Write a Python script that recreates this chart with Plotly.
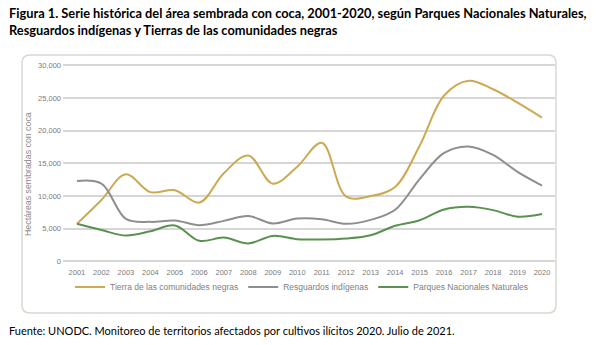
import plotly.graph_objects as go

years = list(range(2001, 2021))
tierras = [5750, 9400, 13350, 10600, 10900, 9000, 13500, 16200, 11900, 14500,
           18150, 9900, 10000, 11400, 17700, 25400, 27650, 26350, 24300, 22000]
resguardos = [12300, 11900, 6500, 6050, 6250, 5550, 6200, 6950, 5800, 6550,
              6450, 5750, 6350, 7900, 12600, 16600, 17600, 16300, 13700, 11600]
parques = [5750, 4800, 3950, 4600, 5500, 3150, 3650, 2750, 3900, 3400,
           3350, 3500, 4000, 5450, 6300, 7950, 8350, 7850, 6850, 7250]
names = ["Tierra de las comunidades negras", "Resguardos indígenas", "Parques Nacionales Naturales"]
colors = ["#CDAA52", "#8E8E8E", "#5B9150"]
y_ticks = [0, 5000, 10000, 15000, 20000, 25000, 30000]

title_l1 = "Figura 1. Serie histórica del área sembrada con coca, 2001-2020, según Parques Nacionales Naturales,"
title_l2 = "Resguardos indígenas y Tierras de las comunidades negras"
source = "Fuente: UNODC. Monitoreo de territorios afectados por cultivos ilícitos 2020. Julio de 2021."
y_title = "Hectáreas sembradas con coca"

W, H = 616, 345
L, R, T, B = 63, 61, 60, 79
pw, ph = W - L - R, H - T - B

def px(x):
    return (x - L) / pw

def py(y):
    return (H - B - y) / ph

fig = go.Figure()
for vals, nm, c in zip([tierras, resguardos, parques], names, colors):
    fig.add_trace(go.Scatter(x=years, y=vals, name=nm, mode="lines",
                             line=dict(color=c, width=2, shape="spline", smoothing=1.0)))

fig.update_layout(
    width=W, height=H,
    margin=dict(l=L, r=R, t=T, b=B),
    paper_bgcolor="white", plot_bgcolor="white",
    font=dict(family="Liberation Sans", size=8, color="#8A8A8A"),
    xaxis=dict(range=[2000.43, 2020.53], tickmode="array", tickvals=years,
               ticktext=[str(y) for y in years], showgrid=False, zeroline=False,
               showline=False, ticks="", tickfont=dict(size=7.5, color="#7A7A7A")),
    yaxis=dict(range=[-704, 30827], tickmode="array", tickvals=y_ticks,
               ticktext=[f"{v:,}" for v in y_ticks], showgrid=True,
               gridcolor="#D6D6D6", gridwidth=2, zeroline=False, showline=False,
               ticks="", tickfont=dict(size=7.5, color="#7A7A7A"), ticklabelstandoff=1),
    showlegend=True,
    legend=dict(orientation="h", x=px(70), y=py(287), xanchor="left", yanchor="middle",
                font=dict(size=8.5, color="#808080"), itemwidth=30, bgcolor="rgba(0,0,0,0)"),
)

# rounded frame around the chart
x0, y0, x1, y1, r = px(22), py(55), px(556), py(313), 8
rx, ry = r / pw, r / ph
path = (f"M {x0+rx},{y0} L {x1-rx},{y0} Q {x1},{y0} {x1},{y0-ry} "
        f"L {x1},{y1+ry} Q {x1},{y1} {x1-rx},{y1} L {x0+rx},{y1} "
        f"Q {x0},{y1} {x0},{y1+ry} L {x0},{y0-ry} Q {x0},{y0} {x0+rx},{y0} Z")
fig.add_shape(type="path", path=path, xref="paper", yref="paper",
              line=dict(color="#D3DCCF", width=1.5), layer="below")

fig.add_annotation(text=y_title, xref="paper", yref="paper", x=px(28), y=py(174),
                   textangle=-90, showarrow=False, xanchor="center", yanchor="middle",
                   font=dict(size=8.8, color="#8A8A8A"))
fig.add_annotation(text=f"<b>{title_l1}</b>", xref="paper", yref="paper", x=px(7), y=py(13),
                   showarrow=False, xanchor="left", yanchor="middle",
                   font=dict(family="Lato", size=12.8, color="#000000"))
fig.add_annotation(text=f"<b>{title_l2}</b>", xref="paper", yref="paper", x=px(7), y=py(30),
                   showarrow=False, xanchor="left", yanchor="middle",
                   font=dict(family="Lato", size=12.8, color="#000000"))
fig.add_annotation(text=source, xref="paper", yref="paper", x=px(7), y=py(330),
                   showarrow=False, xanchor="left", yanchor="middle",
                   font=dict(family="Lato", size=11, color="#000000"))

fig.write_html("out.html")
